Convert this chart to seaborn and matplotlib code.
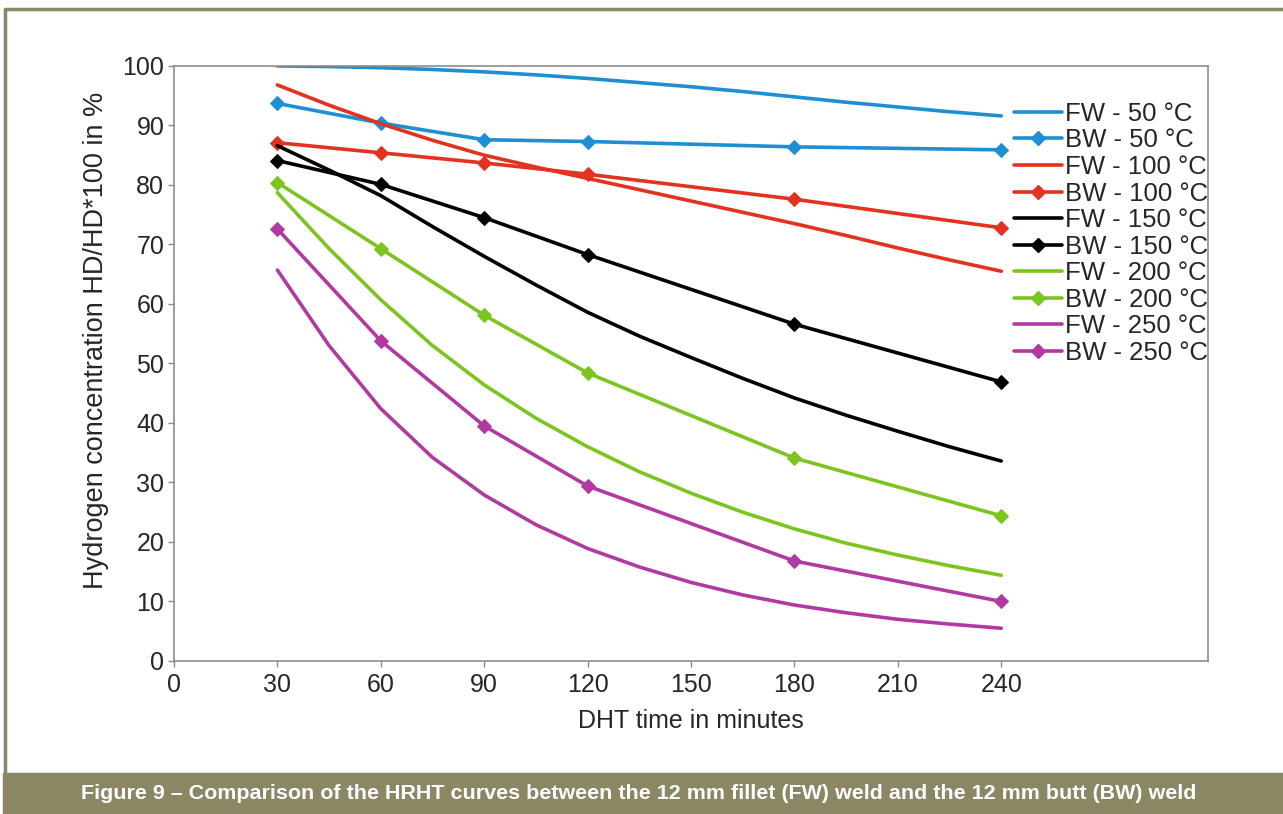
import matplotlib
matplotlib.use("Agg")
import matplotlib.pyplot as plt
import seaborn as sns
from matplotlib.lines import Line2D
from matplotlib.patches import Rectangle

sns.set_style("white")
plt.rcParams['font.family'] = ['Liberation Sans', 'DejaVu Sans']

# FW curves read at every 15 minutes, BW curves at the measured points
fw_time = [30, 45, 60, 75, 90, 105, 120, 135, 150, 165, 180, 195, 210, 225, 240]
bw_time = [30, 60, 90, 120, 180, 240]

fw_50 = [100.0, 99.9, 99.7, 99.4, 99.0, 98.5, 97.9, 97.2, 96.5, 95.7, 94.8,
         93.9, 93.1, 92.3, 91.6]
fw_100 = [96.8, 93.4, 90.3, 87.5, 85.0, 83.0, 81.1, 79.2, 77.3, 75.4, 73.5,
          71.5, 69.4, 67.4, 65.5]
fw_150 = [86.6, 82.5, 78.2, 73.0, 68.0, 63.2, 58.6, 54.6, 51.0, 47.5, 44.2,
          41.3, 38.6, 36.0, 33.6]
fw_200 = [78.7, 69.3, 60.7, 53.0, 46.4, 40.8, 36.0, 31.8, 28.2, 25.0, 22.2,
          19.8, 17.8, 16.0, 14.4]
fw_250 = [65.7, 53.0, 42.4, 34.2, 27.9, 22.9, 18.9, 15.8, 13.2, 11.1, 9.4,
          8.1, 7.0, 6.2, 5.5]

bw_50 = [93.7, 90.4, 87.6, 87.3, 86.4, 85.9]
bw_100 = [87.1, 85.4, 83.7, 81.8, 77.6, 72.8]
bw_150 = [84.1, 80.1, 74.5, 68.3, 56.6, 46.9]
bw_200 = [80.4, 69.3, 58.1, 48.4, 34.1, 24.4]
bw_250 = [72.6, 53.8, 39.5, 29.4, 16.8, 10.0]

temps = ["50", "100", "150", "200", "250"]
fw_series = [fw_50, fw_100, fw_150, fw_200, fw_250]
bw_series = [bw_50, bw_100, bw_150, bw_200, bw_250]
colors = ["#1e8fd2", "#e3321f", "#000000", "#7cc520", "#b13aa2"]

x_ticks = [0, 30, 60, 90, 120, 150, 180, 210, 240]
y_ticks = list(range(0, 101, 10))

fig = plt.figure(figsize=(12.83, 8.14), dpi=100)
ax = fig.add_axes([0.1356, 0.188, 0.806, 0.731])

handles = []
labels = []
for t, fw, bw, c in zip(temps, fw_series, bw_series, colors):
    sns.lineplot(x=fw_time, y=fw, color=c, linewidth=2.6, ax=ax)
    sns.lineplot(x=bw_time, y=bw, color=c, linewidth=2.6, marker="D",
                 markersize=7.5, markeredgecolor=c, ax=ax)
    handles.append(Line2D([0], [0], color=c, lw=2.6))
    labels.append("FW - " + t + " °C")
    handles.append(Line2D([0], [0], color=c, lw=2.6, marker="D", markersize=7.5))
    labels.append("BW - " + t + " °C")

ax.set_xlim(0, 300)
ax.set_ylim(0, 100)
ax.set_xticks(x_ticks)
ax.set_yticks(y_ticks)
ax.tick_params(axis="both", labelsize=18, length=4, width=1, color="#888888",
               direction="out", pad=3, bottom=True, left=True)
ax.tick_params(axis="x", pad=5)
for s in ax.spines.values():
    s.set_color("#8c8c8c")
    s.set_linewidth(1.2)

ax.set_xlabel("DHT time in minutes", fontsize=18, labelpad=8)
ax.set_ylabel("Hydrogen concentration HD/HD*100 in %", fontsize=19.5)
ax.yaxis.set_label_coords(-0.0625, 0.538)

ax.legend(handles, labels, loc="upper right", bbox_to_anchor=(1.01, 0.957),
          frameon=False, fontsize=18.5, handlelength=1.9, handletextpad=0.1,
          labelspacing=0.1, borderaxespad=0)

# olive frame and caption band
olive = "#8b8664"
fig.add_artist(Line2D([0.0039, 1.0], [0.989, 0.989], color=olive, lw=2.5,
                      transform=fig.transFigure))
fig.add_artist(Line2D([0.0039, 0.0039], [0.05, 0.989], color=olive, lw=2.5,
                      transform=fig.transFigure))
fig.add_artist(Rectangle((0.0025, 0.0), 1.0, 0.0504, color=olive,
                         transform=fig.transFigure))
fig.text(0.498, 0.025,
         "Figure 9 – Comparison of the HRHT curves between the 12 mm fillet (FW) weld and the 12 mm butt (BW) weld",
         color="white", fontsize=15.45, fontweight="bold", ha="center", va="center")

fig.savefig("out.png", dpi=100)
